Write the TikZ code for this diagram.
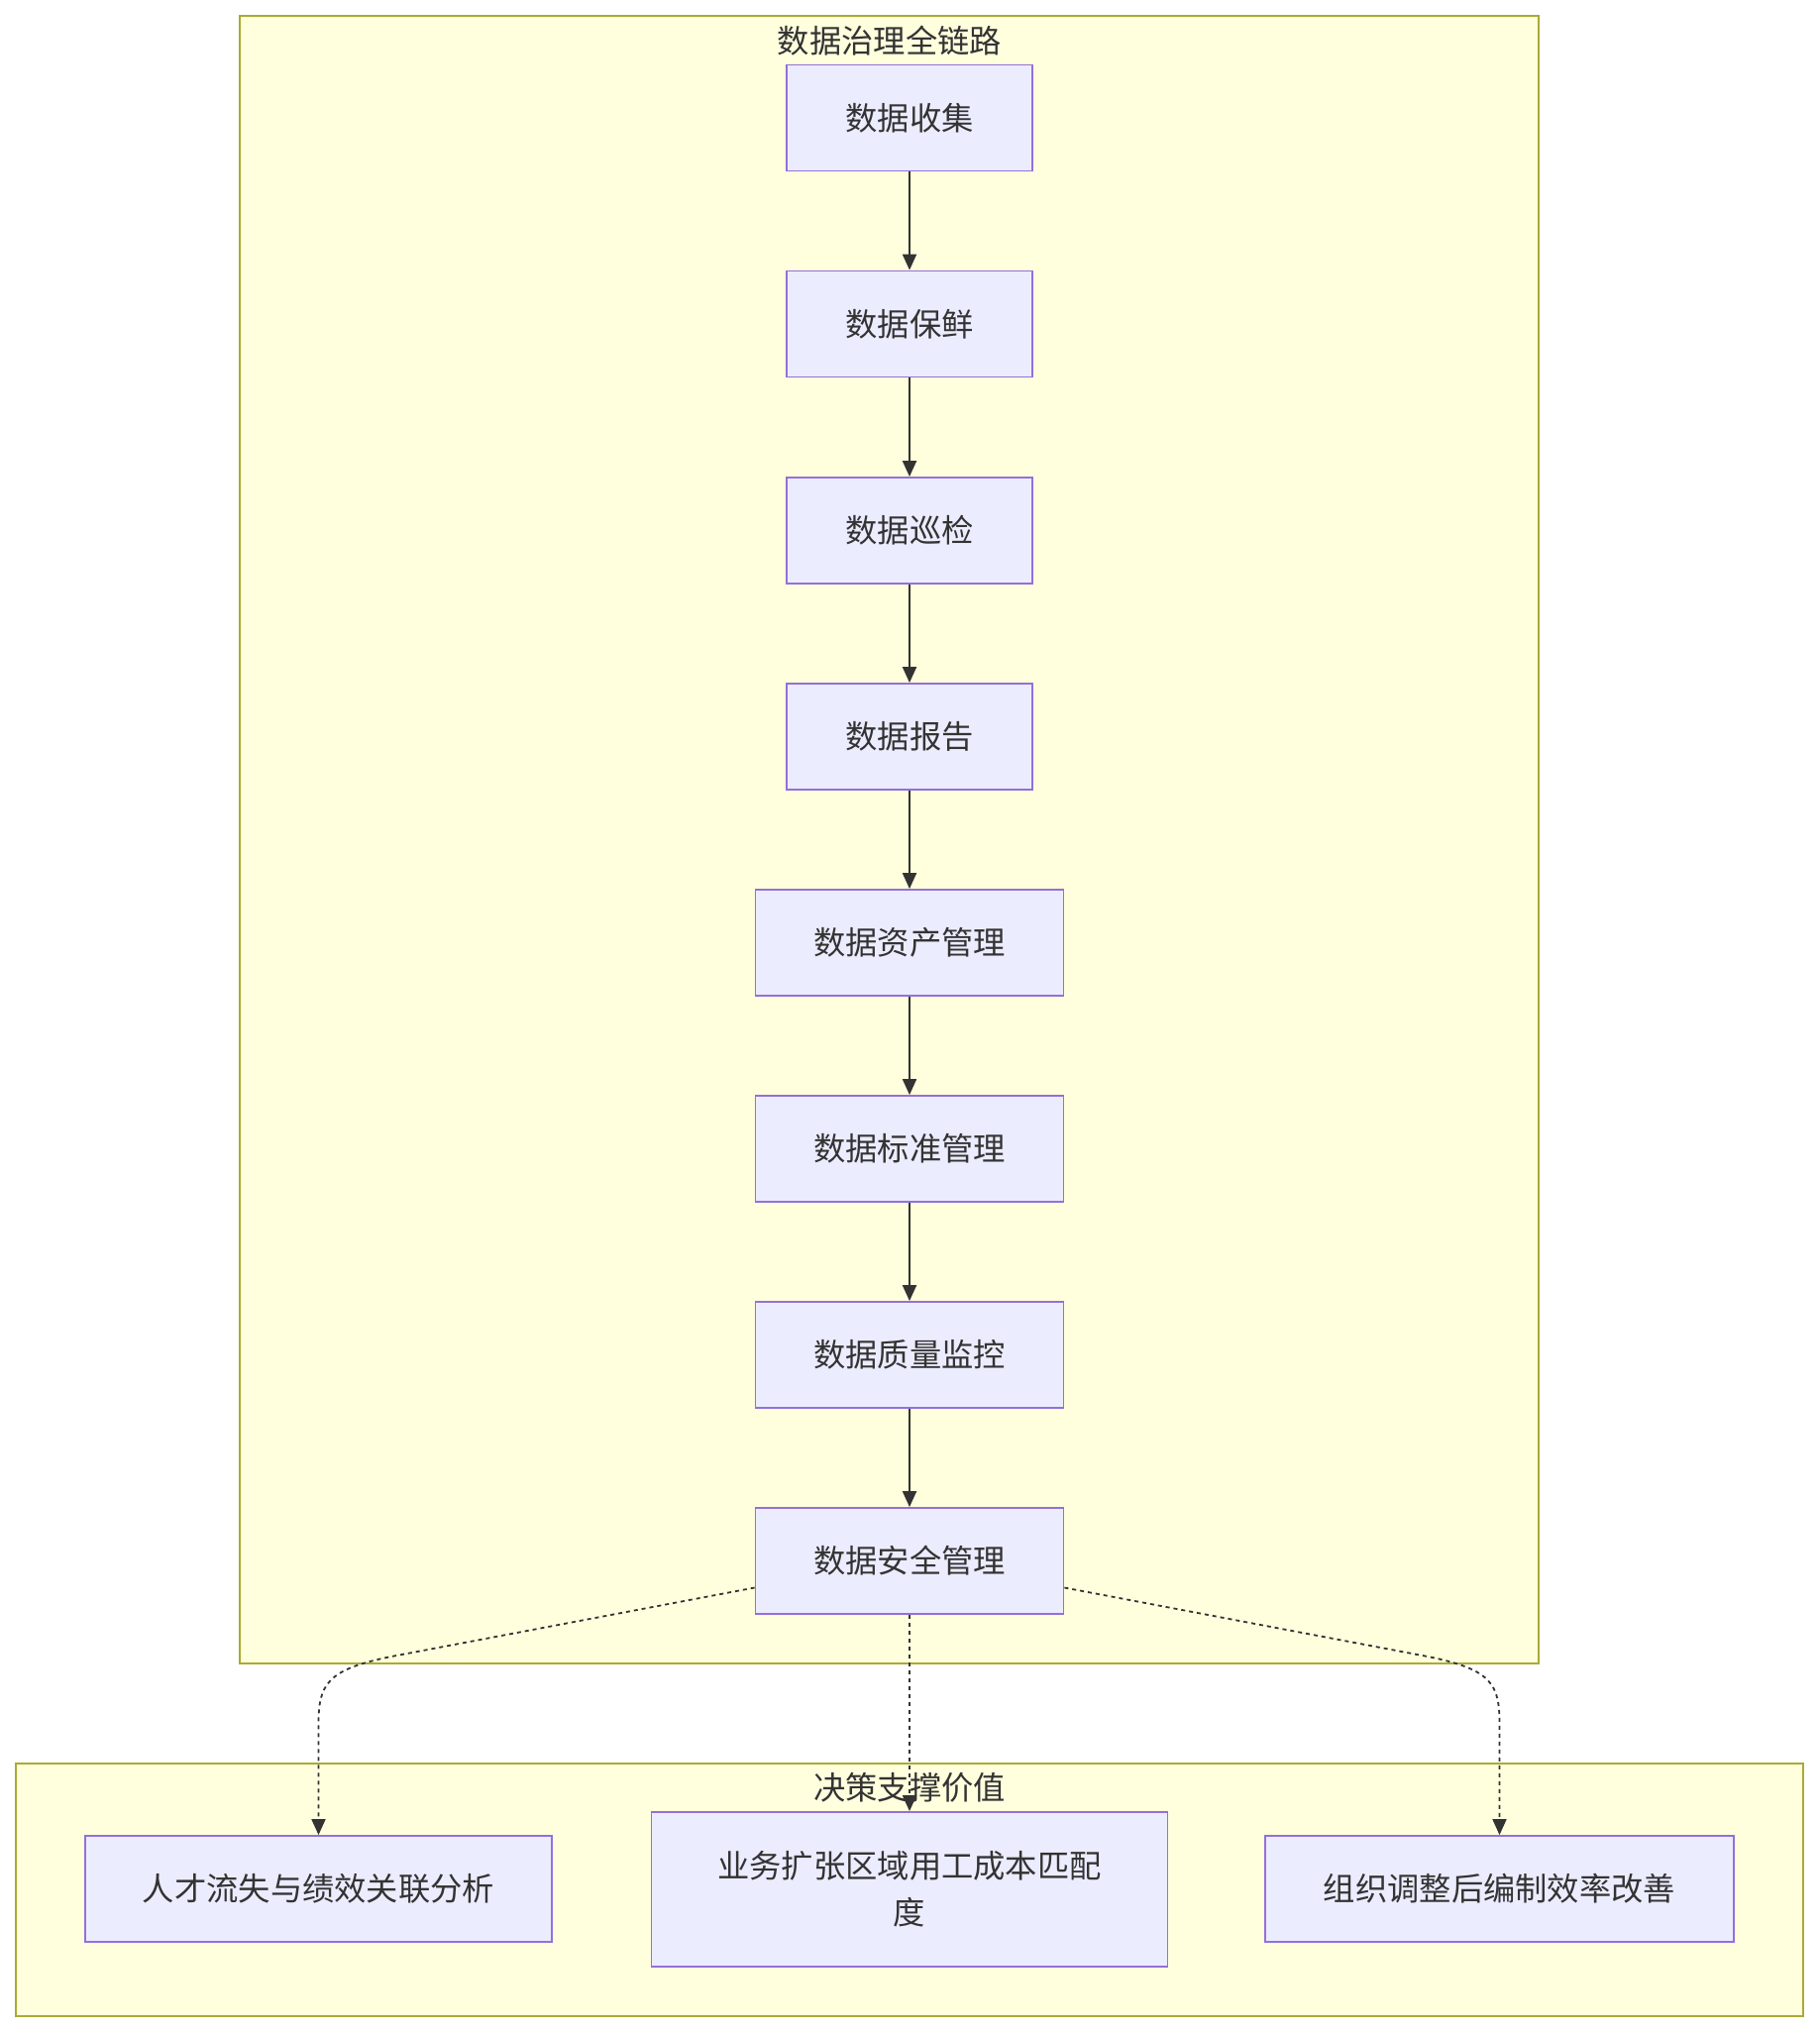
\documentclass[tikz,border=0pt]{standalone}
\usepackage{fontspec}
\setmainfont{Noto Sans CJK SC}
\usetikzlibrary{arrows.meta,calc}
\definecolor{clfill}{HTML}{FFFFDE}
\definecolor{clline}{HTML}{AAAA33}
\definecolor{ndfill}{HTML}{ECECFF}
\definecolor{ndline}{HTML}{9370DB}
\definecolor{txt}{HTML}{333333}
\tikzset{
  x=1pt, y=-1pt,
  cluster/.style={draw=clline, fill=clfill, line width=1.8pt},
  cltitle/.style={text=txt, font=\fontsize{32.3}{40}\selectfont, inner sep=0pt},
  box/.style={draw=ndline, fill=ndfill, line width=1.8pt, text=txt,
    font=\fontsize{32.3}{47}\selectfont, inner sep=0pt, minimum height=107pt, align=center},
  flow/.style={draw=txt, line width=2pt, -{Triangle[length=16pt,width=14pt]}},
  dflow/.style={draw=txt, line width=1.8pt, dash pattern=on 4pt off 4pt,
    -{Triangle[length=16pt,width=14pt]}}
}
\begin{document}
\begin{tikzpicture}
\useasboundingbox (0,0) rectangle (1836,2052);
% clusters
\draw[cluster] (242,16) rectangle (1553,1679);
\node[cltitle] (t1) at (898,41) {数据治理全链路};
\draw[cluster] (16,1780) rectangle (1820,2035);
\node[cltitle] (t2) at (918,1804) {决策支撑价值};
% chain nodes
\node[box, minimum width=248pt] (n1) at (918,119) {数据收集};
\node[box, minimum width=248pt] (n2) at (918,327) {数据保鲜};
\node[box, minimum width=248pt] (n3) at (918,535.5) {数据巡检};
\node[box, minimum width=248pt] (n4) at (918,743.5) {数据报告};
\node[box, minimum width=311pt] (n5) at (918,951.5) {数据资产管理};
\node[box, minimum width=311pt] (n6) at (918,1159.5) {数据标准管理};
\node[box, minimum width=311pt] (n7) at (918,1367.5) {数据质量监控};
\node[box, minimum width=311pt] (n8) at (918,1575.5) {数据安全管理};
% value nodes
\node[box, minimum width=471pt] (v1) at (321.5,1906.5) {人才流失与绩效关联分析};
\node[box, minimum width=521pt, minimum height=156pt] (v2) at (918,1907) {业务扩张区域用工成本匹配\\度};
\node[box, minimum width=473pt] (v3) at (1513.5,1906.5) {组织调整后编制效率改善};
% solid chain
\draw[flow] (n1) -- (n2);
\draw[flow] (n2) -- (n3);
\draw[flow] (n3) -- (n4);
\draw[flow] (n4) -- (n5);
\draw[flow] (n5) -- (n6);
\draw[flow] (n6) -- (n7);
\draw[flow] (n7) -- (n8);
% dashed links
\coordinate (sl) at ($(n8.west)+(0,27)$);
\coordinate (sr) at ($(n8.east)+(0,27)$);
\draw[dflow] (sl) -- (395,1672) .. controls (330,1685) and (321.5,1700) .. (321.5,1740) -- (v1.north);
\draw[dflow] (n8.south) -- (v2.north);
\draw[dflow] (sr) -- (1441,1672) .. controls (1506,1685) and (1513.5,1700) .. (1513.5,1740) -- (v3.north);
\end{tikzpicture}
\end{document}
